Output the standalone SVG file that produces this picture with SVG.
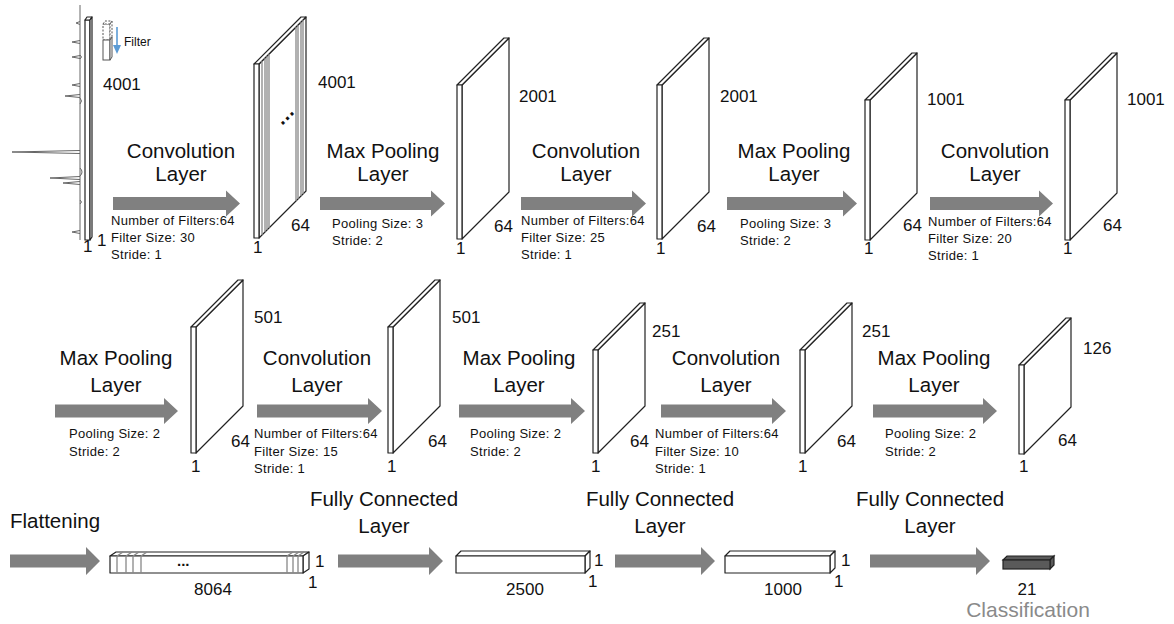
<svg xmlns="http://www.w3.org/2000/svg" width="1174" height="624" viewBox="0 0 1174 624">
<style>
text{font-family:"Liberation Sans",Arial,sans-serif;fill:#111}
.lab{font-size:20.5px;text-anchor:middle}
.num{font-size:17px}
.sm{font-size:13px;letter-spacing:0.3px}
.fil{font-size:12px}
.cls{font-size:21px;fill:#8a8a8a}
.arr{fill:#808080;stroke:none}
.sl{fill:#fff;stroke:#222;stroke-width:1.2;stroke-linejoin:round}
.ln{stroke:#888;stroke-width:1.3;fill:none}
.sig{stroke:#666;stroke-width:1;fill:none}
.dk{fill:#5a5a5a;stroke:#222;stroke-width:1.2}
</style>
<rect width="1174" height="624" fill="#fff"/>

<!-- connectors (arrows) -->
<g id="connectors">
<path class="arr" d="M113,197 H226 V190.5 L240,203.5 L226,216.5 V210 H113 Z"/>
<path class="arr" d="M320,197 H431 V190.5 L445,203.5 L431,216.5 V210 H320 Z"/>
<path class="arr" d="M521,197 H632 V190.5 L646,203.5 L632,216.5 V210 H521 Z"/>
<path class="arr" d="M727,197 H843 V190.5 L857,203.5 L843,216.5 V210 H727 Z"/>
<path class="arr" d="M930,197 H1039 V190.5 L1053,203.5 L1039,216.5 V210 H930 Z"/>
<path class="arr" d="M55,404.5 H164 V398 L178,411 L164,424 V417.5 H55 Z"/>
<path class="arr" d="M257,404.5 H368 V398 L382,411 L368,424 V417.5 H257 Z"/>
<path class="arr" d="M459,404.5 H571 V398 L585,411 L571,424 V417.5 H459 Z"/>
<path class="arr" d="M661,404.5 H772 V398 L786,411 L772,424 V417.5 H661 Z"/>
<path class="arr" d="M873,404.5 H983 V398 L997,411 L983,424 V417.5 H873 Z"/>
<path class="arr" d="M10,554.5 H86 V547 L100,561 L86,575 V567.5 H10 Z"/>
<path class="arr" d="M338,554.5 H429 V547 L443,561 L429,575 V567.5 H338 Z"/>
<path class="arr" d="M615,554.5 H701 V547 L715,561 L701,575 V567.5 H615 Z"/>
<path class="arr" d="M870,554.5 H976 V547 L990,561 L976,575 V567.5 H870 Z"/>
</g>

<!-- input signal -->
<g id="input">
<path class="sig" d="M80,5 V240 M80,21.5 L76,23 L80,24.5 M80,40.5 L72,42 L80,43.5 M80,55.5 L72,57 L80,58.5 M80,83.5 L72,85 L80,86.5 M80,94.5 L65,96 L80,97.5 M80,150.5 L12,152 L80,153.5 M80,176.5 L50,178 L80,179.5 M80,181.5 L63,183 L80,184.5 M80,230.5 L72,232 L80,233.5 M80,55 q3,2 0,4 M80,98 q3,3 0,6 M80,168 q4,4 0,8 M80,200 q3,2 0,4"/>
<rect class="sl" x="85" y="20" width="5" height="220"/>
<polygon class="sl" points="85,20 87,17 92,17 90,20"/>
<polygon class="sl" points="90,20 92,17 92,237 90,240"/>
<g stroke="#555" stroke-width="1" fill="#fff">
<rect x="103" y="24" width="7" height="16" stroke-dasharray="2,1.5"/>
<polygon points="103,24 105,21 112,21 110,24" stroke-dasharray="2,1.5"/>
<polygon points="110,24 112,21 112,37 110,40" stroke-dasharray="2,1.5"/>
<rect x="103" y="40" width="7" height="20"/>
<polygon points="110,40 112,37 112,57 110,60"/>
</g>
<line x1="117" y1="27" x2="117" y2="46" stroke="#5b9bd5" stroke-width="1.6"/>
<polygon points="113,45 121,45 117,54" fill="#5b9bd5"/>
<text class="fil" x="124" y="46">Filter</text>
<text class="num" x="103" y="90">4001</text>
<text class="num" x="83" y="252">1</text>
<text class="num" x="97" y="246">1</text>
</g>

<!-- row 1 -->
<g id="conv1-label">
<text class="lab" x="181" y="158">Convolution</text>
<text class="lab" x="181" y="181">Layer</text>
<text class="sm" x="111" y="225">Number of Filters:64</text>
<text class="sm" x="111" y="242">Filter Size: 30</text>
<text class="sm" x="111" y="259">Stride: 1</text>
</g>
<g id="slabA">
<polygon class="sl" points="259,64 306,17 306,191 259,238"/>
<polygon class="sl" points="254,64 301,17 306,17 259,64"/>
<path class="ln" d="M262,61 V235 M265,58 V232 M267,56 V230 M269,54 V228 M296,27 V201 M298,25 V199 M301,22 V196 M303,20 V194"/>
<rect class="sl" x="254" y="64" width="5" height="174"/>
<text x="285" y="121" font-size="20" font-weight="bold" transform="rotate(-45 285 116)" text-anchor="middle">…</text>
<text class="num" x="318" y="88">4001</text>
<text class="num" x="291" y="231">64</text>
<text class="num" x="253" y="253">1</text>
</g>
<g id="pool1-label">
<text class="lab" x="383" y="158">Max Pooling</text>
<text class="lab" x="383" y="181">Layer</text>
<text class="sm" x="332" y="228">Pooling Size: 3</text>
<text class="sm" x="332" y="245">Stride: 2</text>
</g>
<g id="slabB">
<polygon class="sl" points="462,85 509,38 509,192 462,239"/>
<polygon class="sl" points="457,85 504,38 509,38 462,85"/>
<rect class="sl" x="457" y="85" width="5" height="154"/>
<text class="num" x="519" y="102">2001</text>
<text class="num" x="494" y="232">64</text>
<text class="num" x="456" y="254">1</text>
</g>
<g id="conv2-label">
<text class="lab" x="586" y="158">Convolution</text>
<text class="lab" x="586" y="181">Layer</text>
<text class="sm" x="521" y="225">Number of Filters:64</text>
<text class="sm" x="521" y="242">Filter Size: 25</text>
<text class="sm" x="521" y="259">Stride: 1</text>
</g>
<g id="slabC">
<polygon class="sl" points="662,85 709,38 709,192 662,239"/>
<polygon class="sl" points="657,85 704,38 709,38 662,85"/>
<rect class="sl" x="657" y="85" width="5" height="154"/>
<text class="num" x="720" y="102">2001</text>
<text class="num" x="697" y="232">64</text>
<text class="num" x="656" y="254">1</text>
</g>
<g id="pool2-label">
<text class="lab" x="794" y="158">Max Pooling</text>
<text class="lab" x="794" y="181">Layer</text>
<text class="sm" x="740" y="228">Pooling Size: 3</text>
<text class="sm" x="740" y="245">Stride: 2</text>
</g>
<g id="slabD">
<polygon class="sl" points="870,100 917,53 917,193 870,240"/>
<polygon class="sl" points="865,100 912,53 917,53 870,100"/>
<rect class="sl" x="865" y="100" width="5" height="140"/>
<text class="num" x="927" y="105">1001</text>
<text class="num" x="903" y="231">64</text>
<text class="num" x="864" y="254">1</text>
</g>
<g id="conv3-label">
<text class="lab" x="995" y="158">Convolution</text>
<text class="lab" x="995" y="181">Layer</text>
<text class="sm" x="928" y="226">Number of Filters:64</text>
<text class="sm" x="928" y="243">Filter Size: 20</text>
<text class="sm" x="928" y="260">Stride: 1</text>
</g>
<g id="slabE">
<polygon class="sl" points="1070,100 1117,53 1117,193 1070,240"/>
<polygon class="sl" points="1065,100 1112,53 1117,53 1070,100"/>
<rect class="sl" x="1065" y="100" width="5" height="140"/>
<text class="num" x="1127" y="105">1001</text>
<text class="num" x="1103" y="231">64</text>
<text class="num" x="1063" y="254">1</text>
</g>

<!-- row 2 -->
<g id="pool3-label">
<text class="lab" x="116" y="365">Max Pooling</text>
<text class="lab" x="116" y="392">Layer</text>
<text class="sm" x="69" y="438">Pooling Size: 2</text>
<text class="sm" x="69" y="456">Stride: 2</text>
</g>
<g id="slabF">
<polygon class="sl" points="196,327 243,280 243,406 196,453"/>
<polygon class="sl" points="191,327 238,280 243,280 196,327"/>
<rect class="sl" x="191" y="327" width="5" height="126"/>
<text class="num" x="254" y="323">501</text>
<text class="num" x="231" y="447">64</text>
<text class="num" x="191" y="472">1</text>
</g>
<g id="conv4-label">
<text class="lab" x="317" y="365">Convolution</text>
<text class="lab" x="317" y="392">Layer</text>
<text class="sm" x="254" y="438">Number of Filters:64</text>
<text class="sm" x="254" y="456">Filter Size: 15</text>
<text class="sm" x="254" y="473">Stride: 1</text>
</g>
<g id="slabG">
<polygon class="sl" points="393,327 440,280 440,406 393,453"/>
<polygon class="sl" points="388,327 435,280 440,280 393,327"/>
<rect class="sl" x="388" y="327" width="5" height="126"/>
<text class="num" x="452" y="323">501</text>
<text class="num" x="428" y="447">64</text>
<text class="num" x="387" y="472">1</text>
</g>
<g id="pool4-label">
<text class="lab" x="519" y="365">Max Pooling</text>
<text class="lab" x="519" y="392">Layer</text>
<text class="sm" x="470" y="438">Pooling Size: 2</text>
<text class="sm" x="470" y="456">Stride: 2</text>
</g>
<g id="slabH">
<polygon class="sl" points="598,350 645,303 645,406 598,453"/>
<polygon class="sl" points="593,350 640,303 645,303 598,350"/>
<rect class="sl" x="593" y="350" width="5" height="103"/>
<text class="num" x="652" y="337">251</text>
<text class="num" x="630" y="447">64</text>
<text class="num" x="591" y="472">1</text>
</g>
<g id="conv5-label">
<text class="lab" x="726" y="365">Convolution</text>
<text class="lab" x="726" y="392">Layer</text>
<text class="sm" x="655" y="438">Number of Filters:64</text>
<text class="sm" x="655" y="456">Filter Size: 10</text>
<text class="sm" x="655" y="473">Stride: 1</text>
</g>
<g id="slabI">
<polygon class="sl" points="805,350 852,303 852,406 805,453"/>
<polygon class="sl" points="800,350 847,303 852,303 805,350"/>
<rect class="sl" x="800" y="350" width="5" height="103"/>
<text class="num" x="862" y="337">251</text>
<text class="num" x="837" y="447">64</text>
<text class="num" x="798" y="472">1</text>
</g>
<g id="pool5-label">
<text class="lab" x="934" y="365">Max Pooling</text>
<text class="lab" x="934" y="392">Layer</text>
<text class="sm" x="885" y="438">Pooling Size: 2</text>
<text class="sm" x="885" y="456">Stride: 2</text>
</g>
<g id="slabJ">
<polygon class="sl" points="1024,365 1071,318 1071,407 1024,454"/>
<polygon class="sl" points="1019,365 1066,318 1071,318 1024,365"/>
<rect class="sl" x="1019" y="365" width="5" height="89"/>
<text class="num" x="1083" y="354">126</text>
<text class="num" x="1058" y="446">64</text>
<text class="num" x="1019" y="472">1</text>
</g>

<!-- row 3 -->
<g id="flatten-label">
<text class="lab" x="10" y="528" style="text-anchor:start">Flattening</text>
</g>
<g id="bar8064">
<polygon class="sl" points="110,556 116,552 309,552 303,556"/>
<polygon class="sl" points="303,556 309,552 309,569 303,573"/>
<rect class="sl" x="110" y="556" width="193" height="17"/>
<path class="ln" d="M117,556 V573 M117,556 L123,552 M126,556 V573 M126,556 L132,552 M133,556 V573 M133,556 L139,552 M141,556 V573 M141,556 L147,552 M287,556 V573 M287,556 L293,552 M293,556 V573 M293,556 L299,552 M298,556 V573 M298,556 L304,552"/>
<text x="177" y="566" font-size="15" font-weight="bold">...</text>
<text class="num" x="315" y="567">1</text>
<text class="num" x="308" y="588">1</text>
<text class="num" x="213" y="595" text-anchor="middle">8064</text>
</g>
<g id="fc1-label">
<text class="lab" x="384" y="506">Fully Connected</text>
<text class="lab" x="384" y="533">Layer</text>
</g>
<g id="bar2500">
<polygon class="sl" points="456,556 461,551 590,551 585,556"/>
<polygon class="sl" points="585,556 590,551 590,568 585,573"/>
<rect class="sl" x="456" y="556" width="129" height="17"/>
<text class="num" x="594" y="566">1</text>
<text class="num" x="588" y="587">1</text>
<text class="num" x="525" y="595" text-anchor="middle">2500</text>
</g>
<g id="fc2-label">
<text class="lab" x="660" y="506">Fully Connected</text>
<text class="lab" x="660" y="533">Layer</text>
</g>
<g id="bar1000">
<polygon class="sl" points="725,556 730,551 835,551 830,556"/>
<polygon class="sl" points="830,556 835,551 835,568 830,573"/>
<rect class="sl" x="725" y="556" width="105" height="17"/>
<text class="num" x="841" y="566">1</text>
<text class="num" x="834" y="587">1</text>
<text class="num" x="783" y="595" text-anchor="middle">1000</text>
</g>
<g id="fc3-label">
<text class="lab" x="930" y="506">Fully Connected</text>
<text class="lab" x="930" y="533">Layer</text>
</g>
<g id="output">
<polygon class="dk" points="1003,560 1007,556 1054,556 1050,560"/>
<polygon class="dk" points="1050,560 1054,556 1054,565 1050,569"/>
<rect class="dk" x="1003" y="560" width="47" height="9"/>
<text class="num" x="1027" y="595" text-anchor="middle">21</text>
<text class="cls" x="1028" y="617" text-anchor="middle">Classification</text>
</g>
</svg>
